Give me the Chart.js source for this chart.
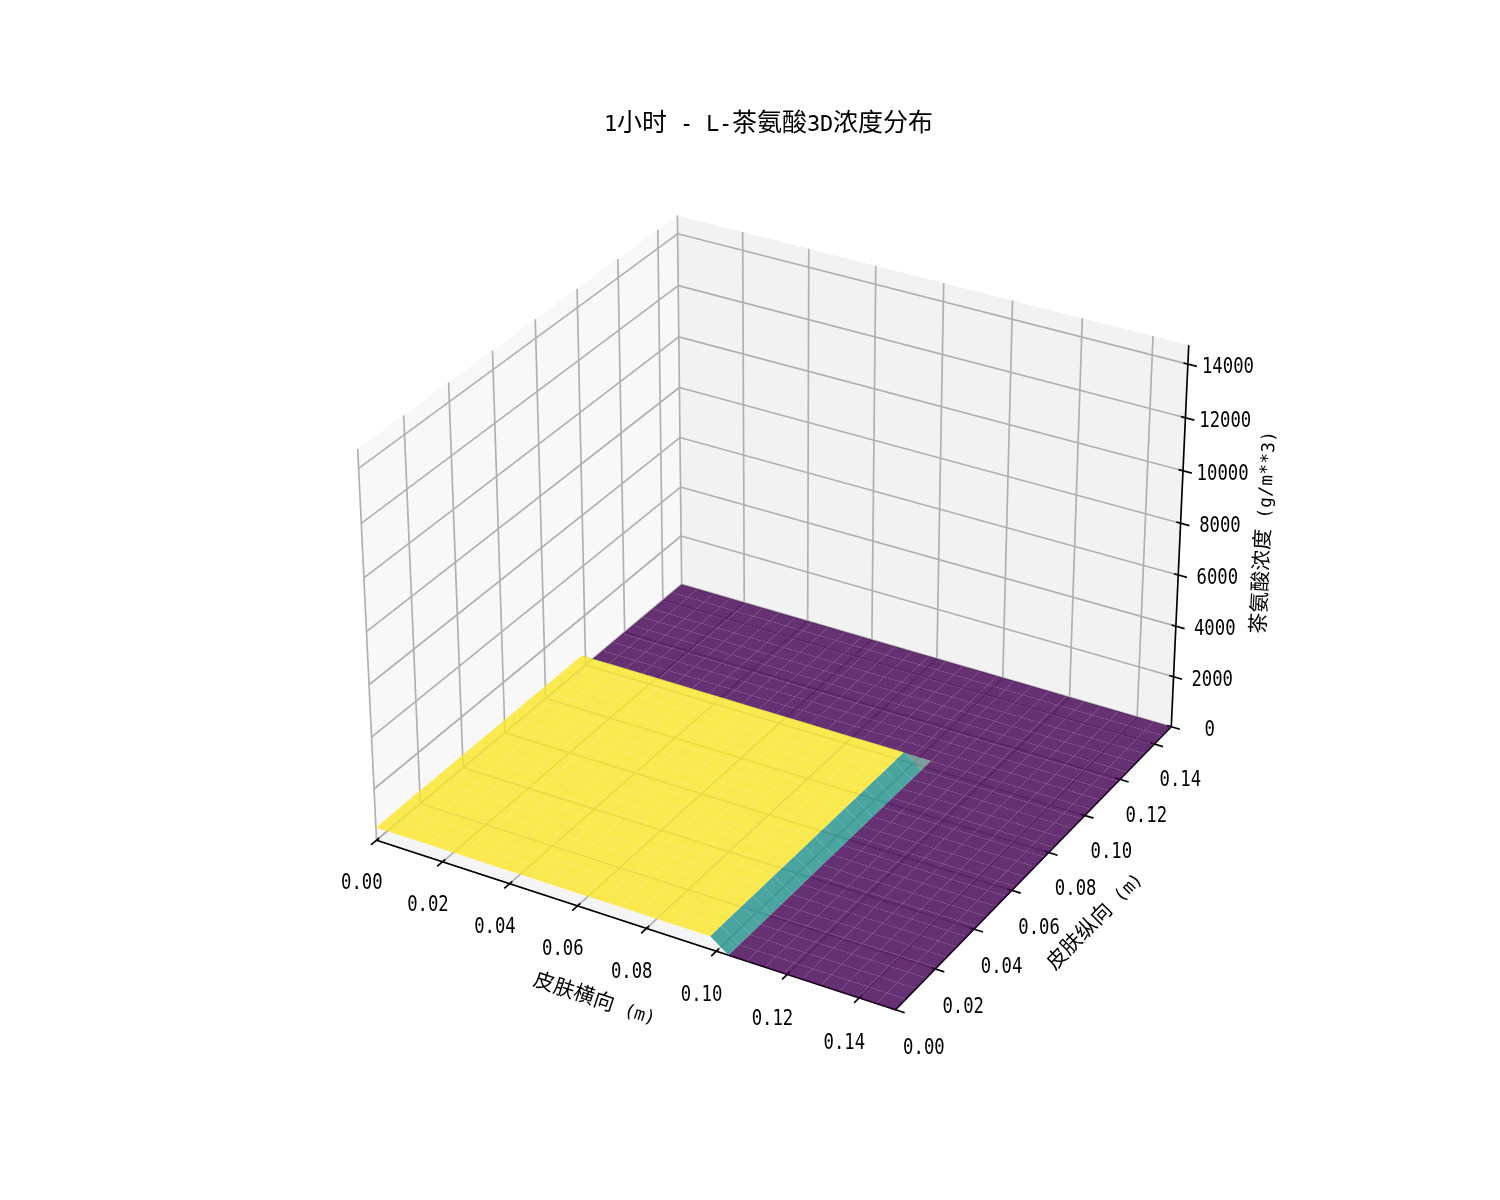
<!DOCTYPE html>
<html>
<head>
<meta charset="utf-8">
<title>L-茶氨酸3D浓度分布</title>
<style>
  @font-face { font-family: "HeiLike"; src: local("DejaVu Sans Mono"); size-adjust: 86%; unicode-range: U+0000-02FF; }
  @font-face { font-family: "HeiLike"; src: local("Noto Sans CJK SC"), local("Noto Sans CJK SC Regular"), local("NotoSansCJKsc-Regular"); unicode-range: U+2E80-9FFF; }
  html, body { margin: 0; padding: 0; background: #fff; }
  canvas { display: block; }
</style>
</head>
<body>
<canvas id="myChart" width="1500" height="1200"></canvas>
<script src="https://cdn.jsdelivr.net/npm/chart.js@4/dist/chart.umd.js"></script>
<script>
// mesh of the surface, metres
const xGrid = [0, 0.00517, 0.01034, 0.01552, 0.02069, 0.02586, 0.03103, 0.03621, 0.04138, 0.04655, 0.05172, 0.0569, 0.06207, 0.06724, 0.07241, 0.07759, 0.08276, 0.08793, 0.0931, 0.09828, 0.10345, 0.10862, 0.11379, 0.11897, 0.12414, 0.12931, 0.13448, 0.13966, 0.14483, 0.15];
const yGrid = [0, 0.00517, 0.01034, 0.01552, 0.02069, 0.02586, 0.03103, 0.03621, 0.04138, 0.04655, 0.05172, 0.0569, 0.06207, 0.06724, 0.07241, 0.07759, 0.08276, 0.08793, 0.0931, 0.09828, 0.10345, 0.10862, 0.11379, 0.11897, 0.12414, 0.12931, 0.13448, 0.13966, 0.14483, 0.15];

// concentration rows, g/m**3, one row per yGrid entry
const rowInPatch = [500, 500, 500, 500, 500, 500, 500, 500, 500, 500, 500, 500, 500, 500, 500, 500, 500, 500, 500, 500, 0, 0, 0, 0, 0, 0, 0, 0, 0, 0];
const rowOutside = [0, 0, 0, 0, 0, 0, 0, 0, 0, 0, 0, 0, 0, 0, 0, 0, 0, 0, 0, 0, 0, 0, 0, 0, 0, 0, 0, 0, 0, 0];
const concentration = [
  rowInPatch, rowInPatch, rowInPatch, rowInPatch, rowInPatch,
  rowInPatch, rowInPatch, rowInPatch, rowInPatch, rowInPatch,
  rowInPatch, rowInPatch, rowInPatch, rowInPatch, rowInPatch,
  rowInPatch, rowInPatch, rowInPatch, rowInPatch, rowInPatch,
  rowOutside, rowOutside, rowOutside, rowOutside, rowOutside,
  rowOutside, rowOutside, rowOutside, rowOutside, rowOutside
];

const xTicks = [0, 0.02, 0.04, 0.06, 0.08, 0.1, 0.12, 0.14];
const yTicks = [0, 0.02, 0.04, 0.06, 0.08, 0.1, 0.12, 0.14];
const zTicks = [0, 2000, 4000, 6000, 8000, 10000, 12000, 14000];
const xTickLabels = ['0.00', '0.02', '0.04', '0.06', '0.08', '0.10', '0.12', '0.14'];
const yTickLabels = ['0.00', '0.02', '0.04', '0.06', '0.08', '0.10', '0.12', '0.14'];
const zTickLabels = ['0', '2000', '4000', '6000', '8000', '10000', '12000', '14000'];

const titleText = '1小时 - L-茶氨酸3D浓度分布';
const xLabel = '皮肤横向 (m)';
const yLabel = '皮肤纵向 (m)';
const zLabel = '茶氨酸浓度 (g/m**3)';

const xMax = 0.15, yMax = 0.15, zMax = 14700, zTop = 500;

// colours for the cell mean, 0 = lowest, 1 = highest
const colourStops = [
  [0, 'rgba(68,1,84,0.8)'],
  [0.25, 'rgba(92,138,135,0.8)'],
  [0.5, 'rgba(33,145,140,0.8)'],
  [1, 'rgba(253,231,37,0.8)']
];

// same camera as a default 3D axes: elev 30, azim -60, dist 10
const elev = 30 * Math.PI / 180, azim = -60 * Math.PI / 180, dist = 10;
const boxNorm = Math.sqrt(4 * 4 + 4 * 4 + 3 * 3);
const boxK = 1.8294640721620434 * 25 / 24 / boxNorm;
const box = [4 * boxK, 4 * boxK, 3 * boxK];
const w = [Math.cos(elev) * Math.cos(azim), Math.cos(elev) * Math.sin(azim), Math.sin(elev)];
const eye = [box[0] / 2 + dist * w[0], box[1] / 2 + dist * w[1], box[2] / 2 + dist * w[2]];
const uLen = Math.hypot(w[0], w[1]);
const u = [-w[1] / uLen, w[0] / uLen, 0];
const v = [w[1] * u[2] - w[2] * u[1], w[2] * u[0] - w[0] * u[2], w[0] * u[1] - w[1] * u[0]];
const axesSide = 924, axesLeft = 306.75, axesBottom = 132;
const viewSpan = 0.185, viewLow = 0.095;

// data -> figure plane (x to the right, y upward, 1500 x 1200)
function project(x, y, z) {
  const d = [x / xMax * box[0] - eye[0], y / yMax * box[1] - eye[1], z / zMax * box[2] - eye[2]];
  const zv = d[0] * w[0] + d[1] * w[1] + d[2] * w[2];
  const xv = (d[0] * u[0] + d[1] * u[1]) / -zv;
  const yv = (d[0] * v[0] + d[1] * v[1] + d[2] * v[2]) / -zv;
  return {
    x: axesLeft + (xv + viewLow) / viewSpan * axesSide,
    y: axesBottom + (yv + viewLow) / viewSpan * axesSide,
    depth: -zv
  };
}

function line3d(a, b, colour, width) {
  const p = project(a[0], a[1], a[2]), q = project(b[0], b[1], b[2]);
  return { data: [{ x: p.x, y: p.y }, { x: q.x, y: q.y }], borderColor: colour, borderWidth: width, fill: false, borderCapStyle: 'butt' };
}

function poly3d(corners, colour) {
  const pts = corners.map(c => project(c[0], c[1], c[2]));
  const closed = pts.concat([pts[0]]).map(p => ({ x: p.x, y: p.y }));
  return { data: closed, borderWidth: 0, borderColor: 'rgba(0,0,0,0)', backgroundColor: colour, fill: 'shape' };
}

function cellColour(mean) {
  const t = mean / zTop;
  let best = colourStops[0];
  colourStops.forEach(s => { if (Math.abs(s[0] - t) < Math.abs(best[0] - t)) best = s; });
  return best[1];
}

function surfaceCells() {
  const cells = [];
  for (let j = 0; j < yGrid.length - 1; j++) {
    for (let i = 0; i < xGrid.length - 1; i++) {
      const c = [
        [xGrid[i], yGrid[j], concentration[j][i]],
        [xGrid[i + 1], yGrid[j], concentration[j][i + 1]],
        [xGrid[i + 1], yGrid[j + 1], concentration[j + 1][i + 1]],
        [xGrid[i], yGrid[j + 1], concentration[j + 1][i]]
      ];
      const mean = (c[0][2] + c[1][2] + c[2][2] + c[3][2]) / 4;
      const depth = c.reduce((s, p) => s + project(p[0], p[1], p[2]).depth, 0) / 4;
      cells.push({ depth: depth, ds: poly3d(c, cellColour(mean)) });
    }
  }
  cells.sort((a, b) => b.depth - a.depth);
  return cells.map(c => c.ds);
}

function buildDatasets() {
  const list = [];
  const gridColour = 'rgb(176,176,176)', ink = '#000';
  const gridW = 1.67;

  // panes
  list.push(poly3d([[0, 0, 0], [0, yMax, 0], [0, yMax, zMax], [0, 0, zMax]], 'rgba(242,242,242,0.5)'));
  list.push(poly3d([[0, yMax, 0], [xMax, yMax, 0], [xMax, yMax, zMax], [0, yMax, zMax]], 'rgba(230,230,230,0.5)'));
  list.push(poly3d([[0, 0, 0], [xMax, 0, 0], [xMax, yMax, 0], [0, yMax, 0]], 'rgba(236,236,236,0.5)'));

  // grid lines
  xTicks.forEach(x => {
    list.push(line3d([x, 0, 0], [x, yMax, 0], gridColour, gridW));
    list.push(line3d([x, yMax, 0], [x, yMax, zMax], gridColour, gridW));
  });
  yTicks.forEach(y => {
    list.push(line3d([xMax, y, 0], [0, y, 0], gridColour, gridW));
    list.push(line3d([0, y, 0], [0, y, zMax], gridColour, gridW));
  });
  zTicks.forEach(z => {
    list.push(line3d([0, 0, z], [0, yMax, z], gridColour, gridW));
    list.push(line3d([0, yMax, z], [xMax, yMax, z], gridColour, gridW));
  });

  // axis lines and tick marks
  list.push(line3d([0, 0, 0], [xMax, 0, 0], ink, gridW));
  list.push(line3d([xMax, 0, 0], [xMax, yMax, 0], ink, gridW));
  list.push(line3d([xMax, yMax, 0], [xMax, yMax, zMax], ink, gridW));
  const outward = 0.2 / 12, inward = 0.1 / 12;
  xTicks.forEach(x => list.push(line3d([x, -outward * yMax, 0], [x, inward * yMax, 0], ink, gridW)));
  yTicks.forEach(y => list.push(line3d([xMax * (1 + outward), y, 0], [xMax * (1 - inward), y, 0], ink, gridW)));
  zTicks.forEach(z => list.push(line3d([xMax * (1 + outward), yMax, z], [xMax * (1 - inward), yMax, z], ink, gridW)));

  return list.concat(surfaceCells());
}

// tick labels, axis labels and the title, placed through the chart's scales
const textPlugin = {
  id: 'axisText',
  afterDraw(chart) {
    const ctx = chart.ctx, sx = chart.scales.x, sy = chart.scales.y;
    const put = (text, pos, size, angle) => {
      ctx.save();
      ctx.translate(sx.getPixelForValue(pos.x), sy.getPixelForValue(pos.y));
      ctx.rotate(angle || 0);
      ctx.font = size + 'px HeiLike, "Noto Sans CJK SC", "DejaVu Sans Mono"';
      ctx.fillStyle = '#000';
      ctx.textAlign = 'center';
      ctx.textBaseline = 'middle';
      ctx.fillText(text, 0, 0);
      ctx.restore();
    };
    // digits are half an em wide in the original face, so squeeze a mono one
    const putNumber = (text, pos) => {
      ctx.save();
      ctx.translate(sx.getPixelForValue(pos.x), sy.getPixelForValue(pos.y));
      ctx.scale(0.83, 1);
      ctx.font = '20.8px "DejaVu Sans Mono"';
      ctx.fillStyle = '#000';
      ctx.textAlign = 'center';
      ctx.textBaseline = 'middle';
      ctx.fillText(text, 0, 2.5);
      ctx.restore();
    };
    const slope = (a, b) => {
      const p = project(a[0], a[1], a[2]), q = project(b[0], b[1], b[2]);
      return -Math.atan2(q.y - p.y, q.x - p.x);
    };

    put(titleText, { x: 768, y: 1075 }, 25);

    xTicks.forEach((x, i) => putNumber(xTickLabels[i], project(x, -0.048 * yMax, -0.0727 * zMax)));
    yTicks.forEach((y, i) => putNumber(yTickLabels[i], project(xMax * 1.0525, y, -0.0708 * zMax)));
    zTicks.forEach((z, i) => putNumber(zTickLabels[i], project(xMax * 1.06, yMax * 1.03, z)));

    put(xLabel, project(xMax * 0.53, -0.158 * yMax, -0.067 * zMax), 20.8, slope([0, 0, 0], [xMax, 0, 0]));
    put(yLabel, project(xMax * 1.109, yMax / 2, -0.1135 * zMax), 20.8, slope([xMax, 0, 0], [xMax, yMax, 0]));
    put(zLabel, project(xMax * 1.115, yMax * 1.098, zMax / 2), 20.8, slope([xMax, yMax, 0], [xMax, yMax, zMax]));
  }
};

function start() {
  const chart = document.getElementById('myChart').getContext('2d');
  new Chart(chart, {
    type: 'scatter',
    // first dataset is painted last, so hand them over back to front
    data: { datasets: buildDatasets().reverse() },
    options: {
      responsive: false,
      animation: false,
      devicePixelRatio: 1,
      events: [],
      showLine: true,
      clip: false,
      elements: { point: { radius: 0 }, line: { tension: 0 } },
      layout: { padding: 0 },
      plugins: { legend: { display: false }, tooltip: { enabled: false }, title: { display: false } },
      scales: {
        x: { type: 'linear', min: 0, max: 1500, display: false },
        y: { type: 'linear', min: 0, max: 1200, display: false }
      }
    },
    plugins: [textPlugin]
  });
}

Promise.all([
  document.fonts.load('21px HeiLike', '0.皮'),
  document.fonts.load('25px HeiLike', '1小')
]).then(start, start);
</script>
</body>
</html>
